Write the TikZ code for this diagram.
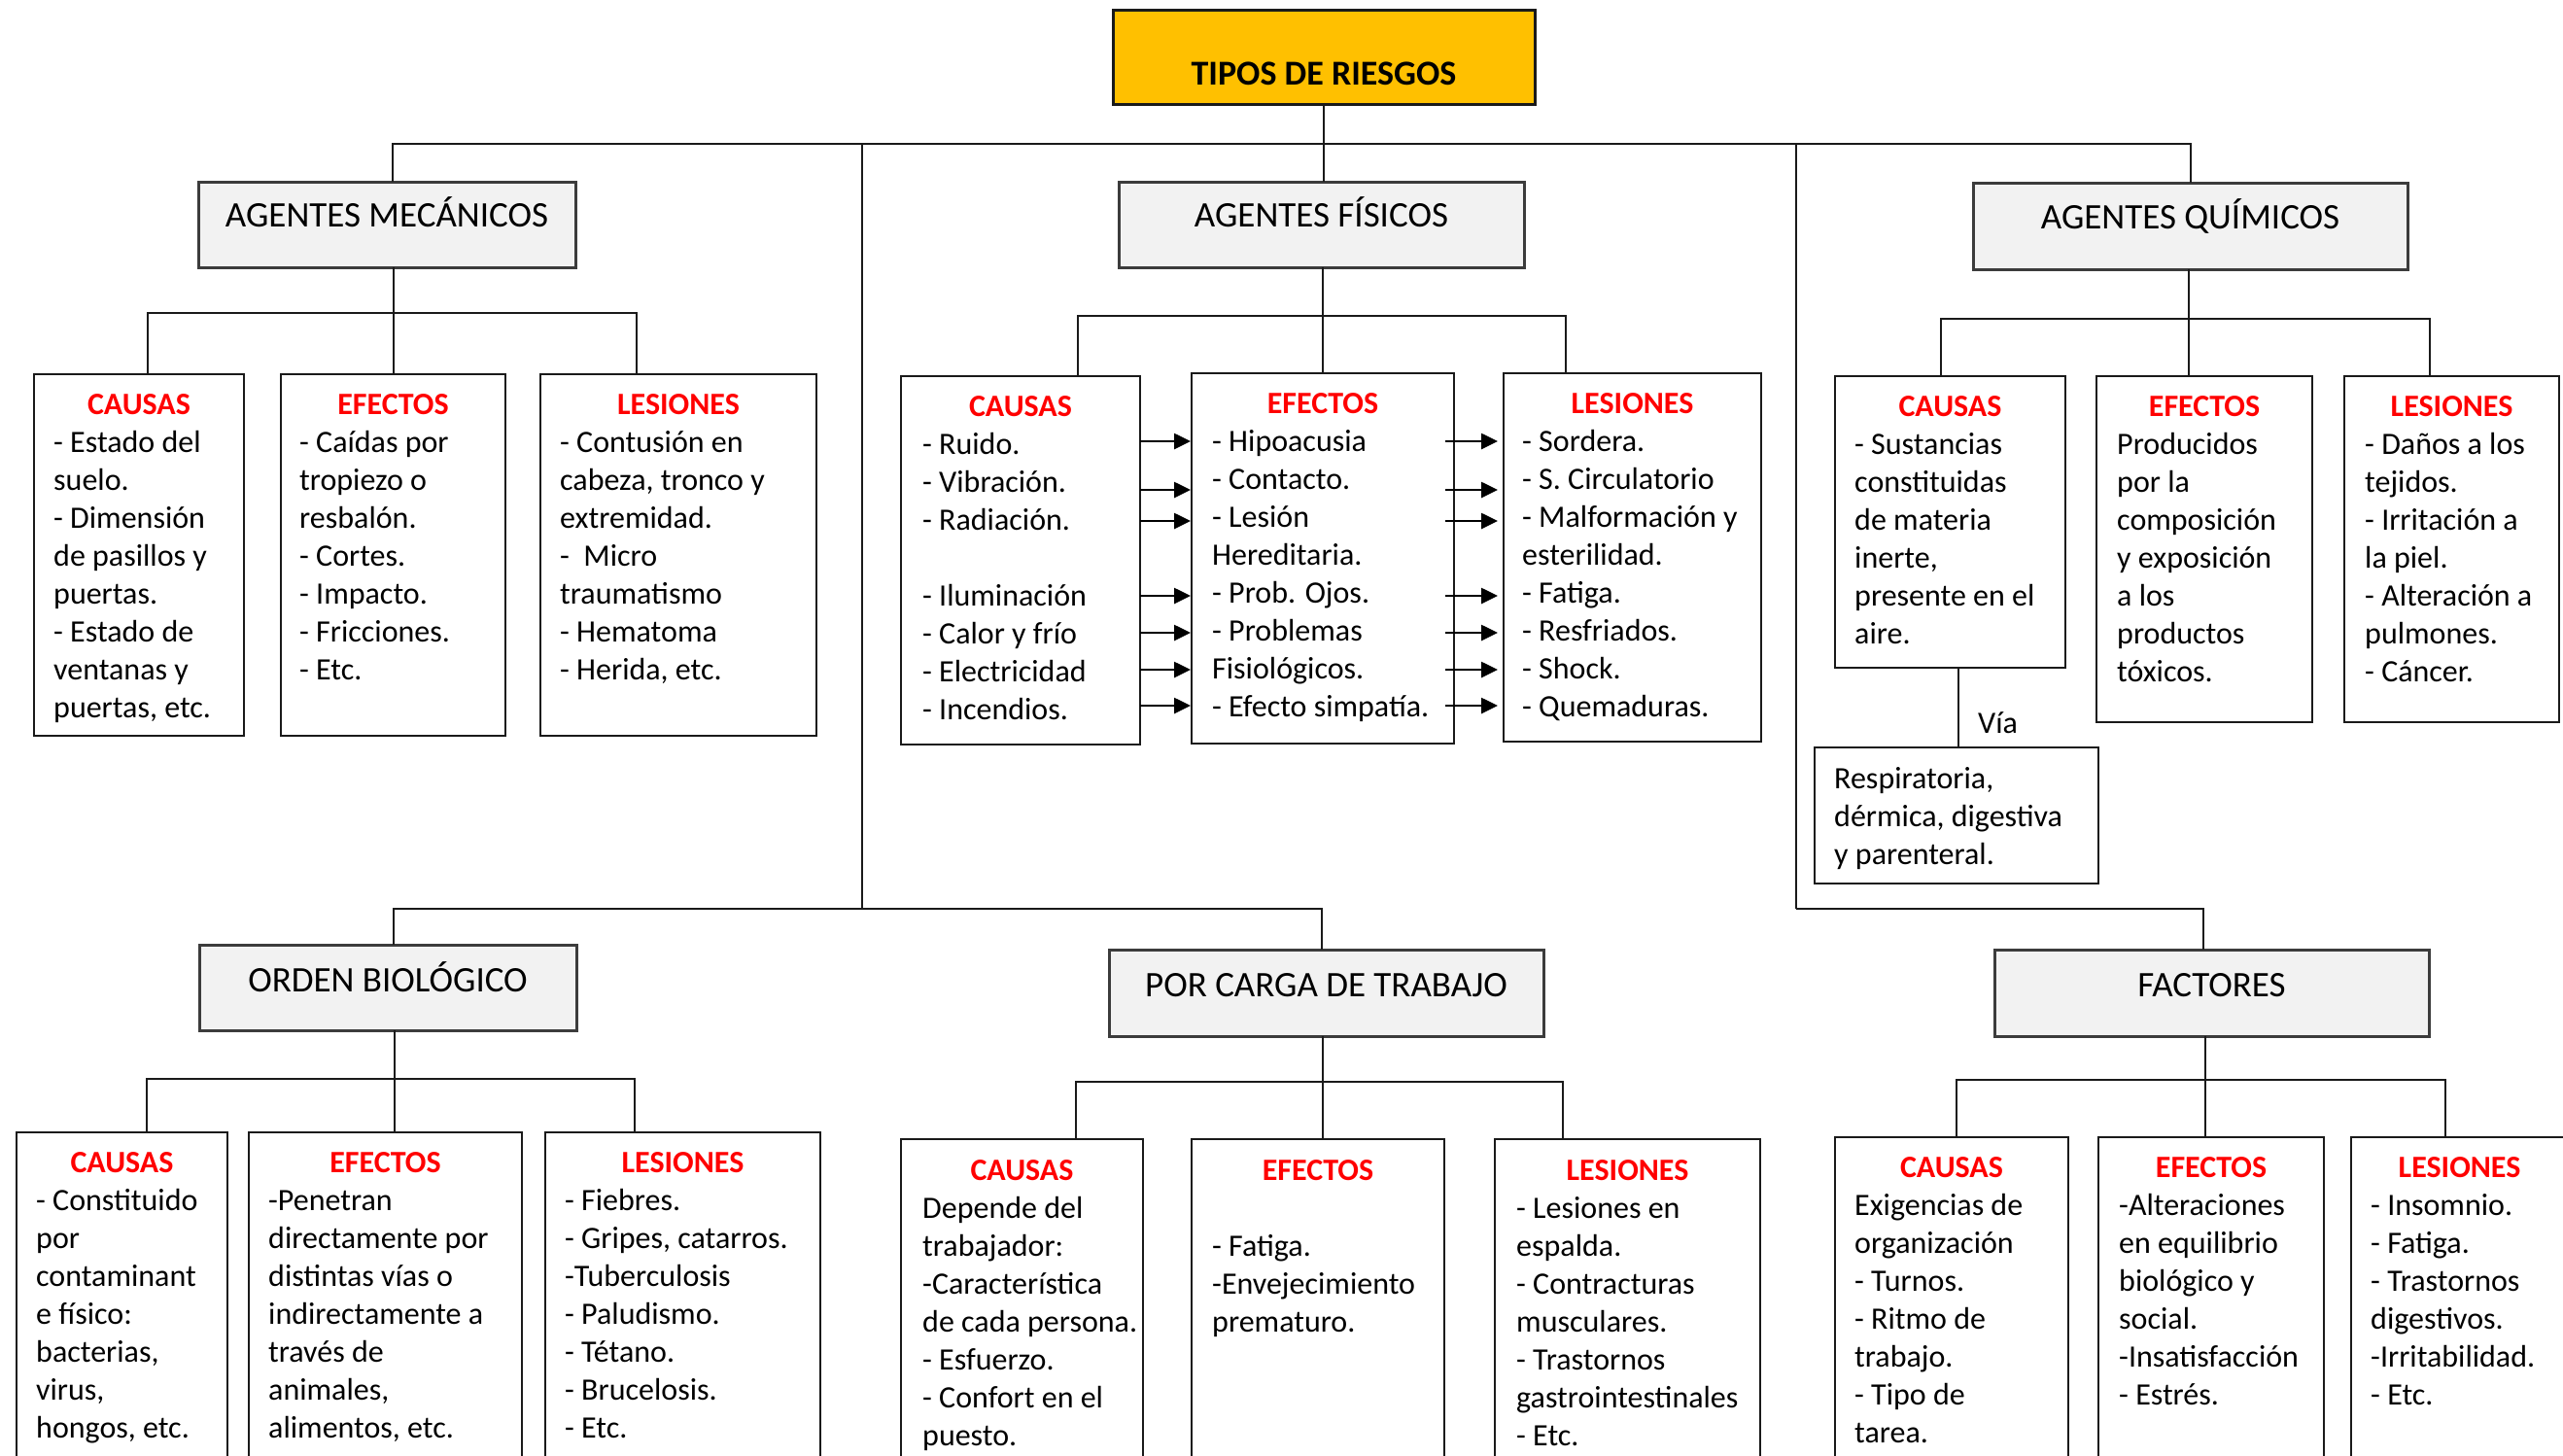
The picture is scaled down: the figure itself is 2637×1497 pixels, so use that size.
\documentclass[tikz,border=0pt]{standalone}
\usepackage{fontspec}
\setmainfont{Carlito}
\usetikzlibrary{arrows.meta}
\definecolor{gold}{HTML}{FFC000}
\definecolor{panelgray}{HTML}{F2F2F2}
\definecolor{headred}{HTML}{FF0000}
\definecolor{edge}{HTML}{1A1A1A}

\tikzset{
  frame/.style={draw=edge, line width=2.6pt, inner sep=0pt, outer sep=0pt, anchor=north west},
  listbox/.style={frame, fill=white},
  groupbox/.style={frame, fill=panelgray, line width=3pt, draw=edge!85},
  rootbox/.style={frame, fill=gold, line width=3pt},
  bodytxt/.style={font=\fontsize{32}{39}\selectfont, inner sep=0pt, anchor=base west},
  headtxt/.style={font=\fontsize{32}{39}\selectfont\bfseries, text=headred, inner sep=0pt, anchor=base},
  grouptxt/.style={font=\fontsize{37}{44}\selectfont, inner sep=0pt, anchor=base},
  roottxt/.style={font=\fontsize{36}{43}\selectfont\bfseries, inner sep=0pt, anchor=base},
  link/.style={draw=edge, line width=2.3pt},
  flow/.style={draw=black, line width=2.6pt, -{Triangle[length=17pt,width=16pt]}},
}

% box given by its top-left and bottom-right corners
\newcommand\boxat[6]{\node[#1, minimum width={(#5-#3)*1pt}, minimum height={(#6-#4)*1pt}] (#2) at (#3,#4) {};}
% lines of a list, 39pt apart, first baseline at #3
\newcommand\listlines[4]{\foreach \entry [count=\k] in {#4} {\node[bodytxt] (#1-\k) at (#2,{#3+39*(\k-1)}) {\entry};}}
% red heading centred in a list box
\newcommand\listhead[3]{\node[headtxt] (#1-head) at (#1.north |- 0,#2) {#3};}
% branch from a group box down to its three list boxes
\newcommand\branch[8]{%
  \draw[link] (#1.south -| #6,0) -- (#3.north -| #6,0);
  \draw[link] (#2.north -| #5,0) -- (#5,#8) -- (#7,#8) -- (#4.north -| #7,0);}

\begin{document}
\begin{tikzpicture}[x=1pt,y=-1pt]
\useasboundingbox (0,0) rectangle (2637,1497);
\fill[white] (0,0) rectangle (2637,1497);
\clip (0,0) rectangle (2637,1497);

% root
\boxat{rootbox}{root}{1145}{10}{1579}{107}
\node[roottxt] (root-text) at (root.north |- 0,87) {TIPOS DE RIESGOS};

% group boxes
\boxat{groupbox}{am}{204}{187}{592}{275}
\boxat{groupbox}{af}{1151}{187}{1568}{275}
\boxat{groupbox}{aq}{2030}{188}{2477}{277}
\boxat{groupbox}{ob}{205}{972}{593}{1060}
\boxat{groupbox}{pc}{1141}{977}{1588}{1066}
\boxat{groupbox}{fa}{2052}{977}{2499}{1066}
\node[grouptxt] (am-text) at (am.north |- 0,233) {AGENTES MECÁNICOS};
\node[grouptxt] (af-text) at (af.north |- 0,233) {AGENTES FÍSICOS};
\node[grouptxt] (aq-text) at (aq.north |- 0,235) {AGENTES QUÍMICOS};
\node[grouptxt] (ob-text) at (ob.north |- 0,1020) {ORDEN BIOLÓGICO};
\node[grouptxt] (pc-text) at (pc.north |- 0,1025) {POR CARGA DE TRABAJO};
\node[grouptxt] (fa-text) at (fa.north |- 0,1025) {FACTORES};

% list boxes
\boxat{listbox}{mc}{35}{385}{251}{757}
\boxat{listbox}{me}{289}{385}{520}{757}
\boxat{listbox}{ml}{556}{385}{840}{757}
\boxat{listbox}{fc}{927}{387}{1173}{766}
\boxat{listbox}{fe}{1226}{384}{1496}{765}
\boxat{listbox}{fl}{1547}{384}{1812}{763}
\boxat{listbox}{qc}{1888}{387}{2125}{687}
\boxat{listbox}{qe}{2157}{387}{2379}{743}
\boxat{listbox}{ql}{2412}{387}{2633}{743}
\boxat{listbox}{qv}{1867}{769}{2159}{909}
\boxat{listbox}{oc}{17}{1165}{234}{1530}
\boxat{listbox}{oe}{256}{1165}{537}{1530}
\boxat{listbox}{ol}{561}{1165}{844}{1530}
\boxat{listbox}{cc}{927}{1172}{1176}{1530}
\boxat{listbox}{ce}{1226}{1172}{1486}{1530}
\boxat{listbox}{cl}{1538}{1172}{1811}{1530}
\boxat{listbox}{xc}{1888}{1170}{2128}{1530}
\boxat{listbox}{xe}{2159}{1170}{2391}{1530}
\boxat{listbox}{xl}{2419}{1170}{2642}{1530}

% agentes mecánicos
\listhead{mc}{426}{CAUSAS}
\listlines{mc}{55}{465}{{- Estado del},{suelo.},{- Dimensión},{de pasillos y},{puertas.},{- Estado de},{ventanas y},{puertas, etc.}}
\listhead{me}{426}{EFECTOS}
\listlines{me}{308}{465}{{- Caídas por},{tropiezo o},{resbalón.},{- Cortes.},{- Impacto.},{- Fricciones.},{- Etc.}}
\listhead{ml}{426}{LESIONES}
\listlines{ml}{576}{465}{{- Contusión en},{cabeza, tronco y},{extremidad.},{-~ Micro},{traumatismo},{- Hematoma},{- Herida, etc.}}

% agentes físicos
\listhead{fc}{428}{CAUSAS}
\listlines{fc}{949}{467}{{- Ruido.},{- Vibración.},{- Radiación.}}
\listlines{fc2}{949}{623}{{- Iluminación},{- Calor y frío},{- Electricidad},{- Incendios.}}
\listhead{fe}{425}{EFECTOS}
\listlines{fe}{1247}{464}{{- Hipoacusia},{- Contacto.},{- Lesión},{Hereditaria.},{- Prob. Ojos.},{- Problemas},{Fisiológicos.},{- Efecto simpatía.}}
\listhead{fl}{425}{LESIONES}
\listlines{fl}{1566}{464}{{- Sordera.},{- S. Circulatorio},{- Malformación y},{esterilidad.},{- Fatiga.},{- Resfriados.},{- Shock.},{- Quemaduras.}}

% agentes químicos
\listhead{qc}{428}{CAUSAS}
\listlines{qc}{1908}{467}{{- Sustancias},{constituidas},{de materia},{inerte,},{presente en el},{aire.}}
\listhead{qe}{428}{EFECTOS}
\listlines{qe}{2178}{467}{{Producidos},{por la},{composición},{y exposición},{a los},{productos},{tóxicos.}}
\listhead{ql}{428}{LESIONES}
\listlines{ql}{2433}{467}{{- Daños a los},{tejidos.},{- Irritación a},{la piel.},{- Alteración a},{pulmones.},{- Cáncer.}}
\listlines{qv}{1887}{811}{{Respiratoria,},{dérmica, digestiva},{y parenteral.}}

% orden biológico
\listhead{oc}{1206}{CAUSAS}
\listlines{oc}{37}{1245}{{- Constituido},{por},{contaminant},{e físico:},{bacterias,},{virus,},{hongos, etc.}}
\listhead{oe}{1206}{EFECTOS}
\listlines{oe}{276}{1245}{{-Penetran},{directamente por},{distintas vías o},{indirectamente a},{través de},{animales,},{alimentos, etc.}}
\listhead{ol}{1206}{LESIONES}
\listlines{ol}{581}{1245}{{- Fiebres.},{- Gripes, catarros.},{-Tuberculosis},{- Paludismo.},{- Tétano.},{- Brucelosis.},{- Etc.}}

% por carga de trabajo
\listhead{cc}{1214}{CAUSAS}
\listlines{cc}{949}{1253}{{Depende del},{trabajador:},{-Característica},{de cada persona.},{- Esfuerzo.},{- Confort en el},{puesto.}}
\listhead{ce}{1214}{EFECTOS}
\listlines{ce}{1247}{1292}{{- Fatiga.},{-Envejecimiento},{prematuro.}}
\listhead{cl}{1214}{LESIONES}
\listlines{cl}{1560}{1253}{{- Lesiones en},{espalda.},{- Contracturas},{musculares.},{- Trastornos},{gastrointestinales},{- Etc.}}

% factores
\listhead{xc}{1211}{CAUSAS}
\listlines{xc}{1908}{1250}{{Exigencias de},{organización},{- Turnos.},{- Ritmo de},{trabajo.},{- Tipo de},{tarea.}}
\listhead{xe}{1211}{EFECTOS}
\listlines{xe}{2180}{1250}{{-Alteraciones},{en equilibrio},{biológico y},{social.},{-Insatisfacción},{- Estrés.}}
\listhead{xl}{1211}{LESIONES}
\listlines{xl}{2439}{1250}{{- Insomnio.},{- Fatiga.},{- Trastornos},{digestivos.},{-Irritabilidad.},{- Etc.}}

% trunk connectors
\coordinate (trunkL) at (404,148);
\coordinate (trunkM) at (887,148);
\coordinate (trunkR) at (1848,148);
\coordinate (trunkQ) at (2254,148);
\coordinate (baseL) at (405,935);
\coordinate (baseM) at (887,935);
\coordinate (baseP) at (1360,935);
\coordinate (baseR) at (1848,935);
\coordinate (baseF) at (2267,935);
\draw[link] (root.south) -- (root.south |- af.north);
\draw[link] (am.north -| trunkL) -- (trunkL) -- (trunkQ) -- (aq.north -| trunkQ);
\draw[link] (trunkM) -- (baseM);
\draw[link] (trunkR) -- (baseR);
\draw[link] (ob.north -| baseL) -- (baseL) -- (baseP) -- (pc.north -| baseP);
\draw[link] (baseR) -- (baseF) -- (fa.north -| baseF);

% branches to the lists
\branch{am}{mc}{me}{ml}{152}{405}{655}{322}
\branch{af}{fc}{fe}{fl}{1109}{1361}{1611}{325}
\branch{aq}{qc}{qe}{ql}{1997}{2252}{2500}{328}
\branch{ob}{oc}{oe}{ol}{151}{406}{653}{1110}
\branch{pc}{cc}{ce}{cl}{1107}{1361}{1608}{1113}
\branch{fa}{xc}{xe}{xl}{2013}{2269}{2516}{1111}

% route of entry
\draw[link] (qc.south -| 2015,0) -- (qv.north -| 2015,0);
\node[bodytxt] (via-label) at (2035,754) {Vía};

% cause -> effect -> injury arrows
\foreach \yy in {454,504,536,613,651,689,726} {
  \draw[flow, shorten >=1pt] (fc.east |- 0,\yy) -- (fe.west |- 0,\yy);
  \draw[flow, shorten <=-9pt, shorten >=6pt] (fe.east |- 0,\yy) -- (fl.west |- 0,\yy);
}
\end{tikzpicture}
\end{document}
